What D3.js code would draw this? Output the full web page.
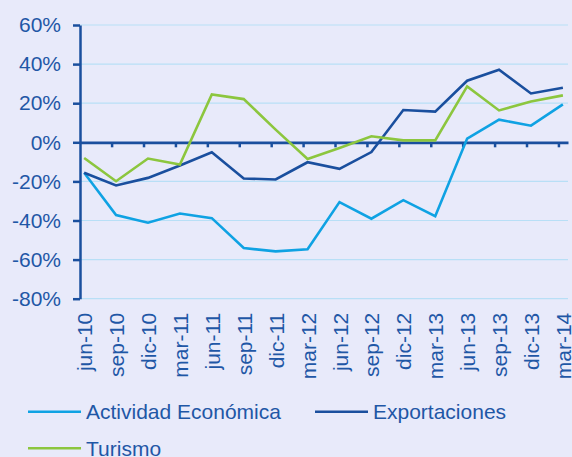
<!DOCTYPE html>
<html>
<head>
<meta charset="utf-8">
<script src="https://cdn.jsdelivr.net/npm/d3@7"></script>
<style>
  html, body { margin: 0; padding: 0; background: #e8eafa; }
  svg { display: block; font-family: "Liberation Sans", Arial, sans-serif; }
</style>
</head>
<body>
<svg id="chart" width="572" height="457"></svg>
<script>
// Quarterly year-on-year growth rates (%)
const periods = ["jun-10","sep-10","dic-10","mar-11","jun-11","sep-11","dic-11","mar-12",
                 "jun-12","sep-12","dic-12","mar-13","jun-13","sep-13","dic-13","mar-14"];
const actividad = [-15.6,-37.2,-41.1,-36.4,-38.8,-54.1,-55.8,-54.7,-30.6,-39.1,-29.6,-37.8,1.9,11.6,8.5,19.4];
const exportaciones = [-15.6,-22.1,-18.2,-11.9,-5.1,-18.5,-19.0,-10.2,-13.6,-5.0,16.5,15.7,31.5,37.1,25.0,27.9];
const turismo = [-8.0,-19.9,-8.3,-11.4,24.5,22.1,6.5,-8.5,-2.9,3.1,1.0,1.0,28.6,16.3,20.9,24.0];
const yTicks = [-80,-60,-40,-20,0,20,40,60];

const seriesList = [
  { name: "Actividad Económica", values: actividad, color: "#0fa2e3" },
  { name: "Exportaciones", values: exportaciones, color: "#1a4f9e" },
  { name: "Turismo", values: turismo, color: "#8cc63e" }
];

const textColor = "#1f57a6";
const axisColor = "#1a4f9e";
const gridColor = "#b8dff6";

const svg = d3.select("#chart");

const x = d3.scaleLinear().domain([-0.13, 15.16]).range([80, 568]);
const y = d3.scaleLinear().domain([-80, 60]).range([298.7, 25]);

// Horizontal gridlines
svg.append("g")
  .selectAll("line")
  .data(yTicks.filter(d => d !== 0))
  .join("line")
  .attr("x1", x.range()[0]).attr("x2", x.range()[1])
  .attr("y1", d => y(d)).attr("y2", d => y(d))
  .attr("stroke", gridColor).attr("stroke-width", 1.2);

// Y axis
const yAxis = svg.append("g")
  .attr("transform", `translate(${x.range()[0]},0)`)
  .call(d3.axisLeft(y).tickValues(yTicks).tickSize(7).tickSizeOuter(0).tickPadding(12)
        .tickFormat(d => d + "%"));
yAxis.select(".domain").attr("stroke", axisColor).attr("stroke-width", 2.5);
yAxis.selectAll(".tick line").attr("stroke", axisColor).attr("stroke-width", 2.5);
yAxis.selectAll(".tick text").attr("fill", textColor).attr("font-size", 21)
  .attr("font-family", "Liberation Sans, Arial, sans-serif");

// Zero line with tick marks between periods
const zeroAxis = svg.append("g")
  .attr("transform", `translate(0,${y(0)})`)
  .call(d3.axisBottom(x).tickValues(d3.range(15).map(i => i + 0.86))
        .tickSize(5).tickSizeOuter(0).tickFormat(""));
zeroAxis.select(".domain").attr("stroke", axisColor).attr("stroke-width", 2.8);
zeroAxis.selectAll(".tick line").attr("stroke", axisColor).attr("stroke-width", 2.5);

// Period labels, rotated, under the plot
const labelAxis = svg.append("g")
  .attr("transform", `translate(0,${y(-80)})`)
  .call(d3.axisBottom(x).tickValues(d3.range(periods.length)).tickSize(0)
        .tickFormat(i => periods[i]));
labelAxis.select(".domain").remove();
labelAxis.selectAll(".tick text")
  .attr("fill", textColor).attr("font-size", 21)
  .attr("font-family", "Liberation Sans, Arial, sans-serif")
  .attr("text-anchor", "end")
  .attr("transform", "rotate(-90)")
  .attr("x", -14).attr("y", 0).attr("dy", "0.36em");

// Series lines
const line = d3.line().x((d, i) => x(i)).y(d => y(d));
svg.append("g")
  .selectAll("path")
  .data(seriesList)
  .join("path")
  .attr("d", s => line(s.values))
  .attr("fill", "none")
  .attr("stroke", s => s.color)
  .attr("stroke-width", 2.6)
  .attr("stroke-linejoin", "miter");

// Legend
const legendPos = [
  { lx: 28, ly: 411.7 },
  { lx: 315, ly: 411.7 },
  { lx: 28, ly: 448.3 }
];
const legend = svg.append("g")
  .selectAll("g")
  .data(seriesList)
  .join("g")
  .attr("transform", (s, i) => `translate(${legendPos[i].lx},${legendPos[i].ly})`);
legend.append("line")
  .attr("x1", 0).attr("x2", 53)
  .attr("stroke", s => s.color).attr("stroke-width", 2.6);
legend.append("text")
  .attr("x", 58).attr("dy", "0.36em")
  .attr("fill", textColor).attr("font-size", 21)
  .text(s => s.name);
</script>
</body>
</html>
